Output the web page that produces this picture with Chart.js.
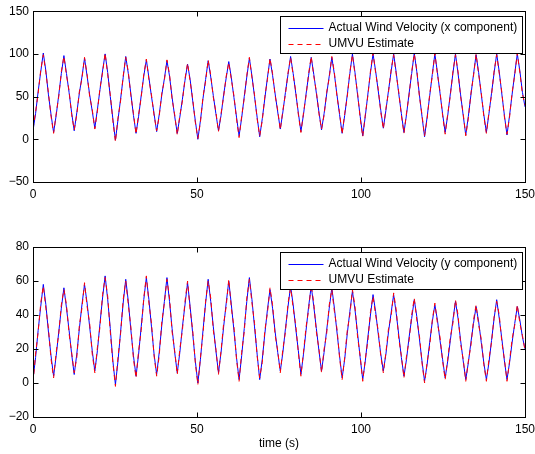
<!DOCTYPE html>
<html>
<head>
<meta charset="utf-8">
<script src="https://cdn.jsdelivr.net/npm/chart.js@4.4.1/dist/chart.umd.min.js"></script>
<style>
  html, body { margin: 0; padding: 0; background: #ffffff; overflow: hidden; }
  #wrap { position: relative; width: 535px; height: 454px; background: #ffffff; overflow: hidden; }
  canvas { position: absolute; left: 0; }
  #c1 { top: 0; }
  #c2 { top: 227px; }
</style>
</head>
<body>
<div id="wrap">
  <canvas id="c1" width="540" height="200"></canvas>
  <canvas id="c2" width="540" height="227"></canvas>
</div>
<script>
const sampleStep = Math.PI / 4;

const xActual = [
  10, 30, 56, 79, 101, 80, 52, 29,
  8, 28, 52, 77, 98, 77, 55, 31,
  10, 31, 54, 73, 95, 74, 52, 33,
  13, 35, 58, 80, 100, 78, 50, 24,
  -1, 23, 47, 72, 97, 77, 53, 28,
  7, 27, 51, 74, 93, 72, 50, 30,
  9, 29, 52, 71, 92, 74, 49, 27,
  7, 26, 47, 69, 88, 70, 45, 22,
  0, 22, 48, 70, 92, 73, 51, 30,
  10, 28, 52, 72, 91, 72, 49, 26,
  4, 25, 50, 73, 95, 74, 50, 26,
  3, 24, 48, 72, 94, 75, 53, 32,
  12, 32, 55, 76, 97, 77, 54, 31,
  9, 29, 53, 75, 96, 76, 54, 32,
  11, 30, 53, 74, 96, 76, 52, 29,
  7, 28, 52, 77, 100, 78, 52, 27,
  4, 27, 53, 78, 100, 80, 57, 34,
  13, 34, 57, 79, 100, 78, 53, 30,
  8, 29, 54, 77, 101, 79, 52, 27,
  3, 26, 51, 76, 100, 78, 54, 30,
  8, 28, 53, 77, 100, 77, 52, 28,
  5, 27, 52, 76, 99, 78, 53, 29,
  8, 30, 54, 78, 100, 79, 53, 28,
  5, 28, 53, 77, 100, 80, 55, 38
];

const xEstimate = [
  12, 32, 54, 81, 99, 78, 54, 27,
  7, 30, 50, 79, 97, 75, 57, 29,
  11, 29, 56, 71, 96, 76, 50, 35,
  12, 33, 60, 78, 101, 76, 52, 22,
  -3, 25, 45, 74, 96, 79, 51, 30,
  6, 29, 49, 76, 94, 70, 52, 28,
  10, 27, 54, 69, 93, 76, 47, 29,
  5, 28, 45, 71, 89, 68, 47, 20,
  1, 20, 50, 68, 93, 75, 49, 32,
  9, 30, 50, 74, 90, 70, 51, 24,
  2, 27, 48, 75, 96, 72, 52, 24,
  4, 22, 50, 70, 95, 77, 51, 34,
  11, 34, 53, 78, 96, 75, 56, 29,
  8, 31, 51, 77, 97, 74, 56, 30,
  12, 28, 55, 72, 97, 78, 50, 31,
  6, 30, 50, 79, 99, 76, 54, 25,
  3, 29, 51, 80, 101, 78, 59, 32,
  12, 36, 55, 81, 99, 76, 55, 28,
  7, 31, 52, 79, 100, 81, 50, 29,
  4, 24, 53, 74, 101, 76, 56, 28,
  6, 30, 51, 79, 99, 79, 50, 30,
  4, 25, 54, 74, 100, 76, 55, 27,
  7, 32, 52, 80, 99, 77, 55, 26,
  6, 26, 55, 75, 101, 78, 53, 40
];

const yActual = [
  2, 15, 31, 45, 58, 46, 30, 16,
  4, 16, 30, 44, 56, 44, 31, 17,
  5, 17, 32, 46, 58, 47, 33, 19,
  7, 19, 35, 50, 63, 49, 32, 13,
  -1, 13, 30, 47, 61, 48, 31, 16,
  4, 17, 33, 49, 62, 49, 33, 17,
  5, 18, 34, 48, 62, 48, 32, 18,
  6, 18, 33, 46, 59, 45, 29, 13,
  0, 14, 31, 47, 61, 48, 33, 19,
  6, 18, 33, 47, 60, 46, 31, 15,
  2, 16, 32, 48, 62, 49, 33, 17,
  2, 14, 29, 43, 55, 44, 30, 18,
  7, 18, 32, 45, 57, 46, 32, 19,
  5, 17, 31, 45, 57, 45, 32, 19,
  7, 18, 31, 44, 56, 44, 30, 16,
  3, 14, 29, 42, 54, 43, 29, 15,
  2, 13, 27, 40, 52, 42, 29, 17,
  7, 17, 30, 41, 52, 41, 28, 15,
  4, 14, 27, 38, 49, 39, 26, 13,
  1, 11, 24, 36, 46, 37, 25, 14,
  3, 13, 25, 37, 48, 38, 25, 13,
  2, 12, 24, 35, 45, 36, 24, 12,
  2, 12, 25, 38, 49, 38, 26, 13,
  2, 12, 24, 35, 45, 37, 27, 20
];

const yEstimate = [
  0, 17, 30, 47, 57, 44, 32, 14,
  3, 18, 29, 46, 55, 46, 29, 18,
  6, 15, 34, 44, 59, 45, 35, 17,
  6, 21, 33, 52, 62, 51, 30, 12,
  -2, 15, 29, 49, 60, 46, 33, 14,
  3, 19, 31, 50, 63, 47, 35, 16,
  4, 16, 36, 47, 61, 50, 30, 19,
  5, 20, 31, 48, 60, 43, 31, 12,
  -1, 15, 29, 48, 60, 50, 31, 20,
  5, 19, 35, 45, 61, 44, 33, 14,
  1, 18, 30, 50, 61, 47, 35, 16,
  3, 12, 31, 41, 56, 46, 28, 19,
  6, 20, 30, 47, 56, 44, 34, 18,
  4, 18, 33, 43, 58, 47, 30, 20,
  6, 20, 29, 46, 55, 42, 32, 15,
  2, 15, 31, 40, 55, 45, 27, 16,
  1, 14, 25, 42, 51, 40, 31, 16,
  6, 18, 32, 39, 53, 43, 26, 16,
  3, 16, 25, 40, 50, 37, 28, 12,
  0, 12, 22, 37, 47, 35, 27, 13,
  2, 14, 27, 35, 49, 40, 23, 14,
  1, 13, 22, 37, 46, 34, 26, 11,
  1, 14, 24, 39, 48, 40, 24, 14,
  1, 13, 26, 34, 46, 35, 28, 19
];

const topLabels = ['Actual Wind Velocity (x component)', 'UMVU Estimate'];
const bottomLabels = ['Actual Wind Velocity (y component)', 'UMVU Estimate'];
const xTicks = [0, 50, 100, 150];
const topYTicks = [-50, 0, 50, 100, 150];
const bottomYTicks = [-20, 0, 20, 40, 60, 80];

// ---- helpers ----
const FONT = "'Liberation Sans', Arial, Helvetica, sans-serif";
Chart.defaults.font.family = FONT;
Chart.defaults.font.size = 12;
Chart.defaults.color = '#000000';

function toPoints(values) {
  return values.map((v, i) => ({ x: i * sampleStep, y: v }));
}
function fmt(v) { return String(v).replace('-', '\u2212'); }

const boxPlugin = {
  id: 'matlabBox',
  afterDatasetsDraw(chart) {
    const { ctx, chartArea: a, scales } = chart;
    const L = Math.round(a.left) + 0.5, R = Math.round(a.right) + 0.5;
    const T = Math.round(a.top) + 0.5, B = Math.round(a.bottom) + 0.5;
    ctx.save();
    ctx.strokeStyle = '#000';
    ctx.lineWidth = 1;
    ctx.strokeRect(L, T, R - L, B - T);
    const tl = 5;
    ctx.beginPath();
    scales.x.ticks.forEach(t => {
      const px = Math.round(scales.x.getPixelForValue(t.value)) + 0.5;
      ctx.moveTo(px, B); ctx.lineTo(px, B - tl);
      ctx.moveTo(px, T); ctx.lineTo(px, T + tl);
    });
    scales.y.ticks.forEach(t => {
      const py = Math.round(scales.y.getPixelForValue(t.value)) + 0.5;
      ctx.moveTo(L, py); ctx.lineTo(L + tl, py);
      ctx.moveTo(R, py); ctx.lineTo(R - tl, py);
    });
    ctx.stroke();

    // legend box (top right, inside the axes)
    const ds = chart.data.datasets;
    ctx.font = '12px ' + FONT;
    const textW = Math.max(...ds.map(d => ctx.measureText(d.label).width));
    const lineLen = 35, gapL = 8, gapT = 5, padR = 5, rowH = 16;
    const bw = Math.round(gapL + lineLen + gapT + textW + padR);
    const bh = rowH * ds.length + 5;
    const bx = Math.round(a.right - 3 - bw) + 0.5;
    const by = Math.round(a.top + 5) + 0.5;
    ctx.fillStyle = '#fff';
    ctx.fillRect(bx, by, bw, bh);
    ctx.strokeStyle = '#000';
    ctx.lineWidth = 1;
    ctx.strokeRect(bx, by, bw, bh);
    ds.forEach((d, i) => {
      const cy = by + 3 + rowH * i + rowH / 2;
      ctx.save();
      ctx.strokeStyle = d.borderColor;
      ctx.lineWidth = d.borderWidth;
      ctx.setLineDash(d.borderDash || []);
      ctx.beginPath();
      ctx.moveTo(bx + gapL, Math.round(cy) + 0.5);
      ctx.lineTo(bx + gapL + lineLen, Math.round(cy) + 0.5);
      ctx.stroke();
      ctx.restore();
      ctx.fillStyle = '#000';
      ctx.textBaseline = 'middle';
      ctx.textAlign = 'left';
      ctx.fillText(d.label, bx + gapL + lineLen + gapT, cy + 0.5);
    });
    ctx.restore();
  }
};

function makeChart(id, actual, estimate, labels, yTicks, padTop, xHeight, withTitle) {
  const ctx = document.getElementById(id);
  return new Chart(ctx, {
    type: 'line',
    data: {
      datasets: [
        { label: labels[0], data: toPoints(actual), borderColor: '#0000ff', borderWidth: 1,
          pointRadius: 0, tension: 0, fill: false, order: 2 },
        { label: labels[1], data: toPoints(estimate), borderColor: '#ff0000', borderWidth: 1,
          borderDash: [5, 4], pointRadius: 0, tension: 0, fill: false, order: 1 }
      ]
    },
    options: {
      responsive: false,
      animation: false,
      devicePixelRatio: 1,
      layout: { padding: { top: padTop, right: 0, left: 0, bottom: 0 } },
      plugins: { legend: { display: false }, tooltip: { enabled: false } },
      scales: {
        x: {
          type: 'linear', min: xTicks[0], max: xTicks[xTicks.length - 1],
          afterBuildTicks: s => { s.ticks = xTicks.map(v => ({ value: v })); },
          grid: { display: false, drawTicks: false },
          border: { display: false },
          ticks: { padding: 5, maxRotation: 0, callback: v => fmt(v), font: { size: 12 } },
          title: { display: withTitle, text: 'time (s)', padding: { top: 2, bottom: 3 }, font: { size: 12 } },
          afterFit: s => { s.height = xHeight; }
        },
        y: {
          type: 'linear', min: yTicks[0], max: yTicks[yTicks.length - 1],
          afterBuildTicks: s => { s.ticks = yTicks.map(v => ({ value: v })); },
          grid: { display: false, drawTicks: false },
          border: { display: false },
          ticks: { padding: 4, callback: v => fmt(v), font: { size: 12 } },
          afterFit: s => { s.width = 33; }
        }
      }
    },
    plugins: [boxPlugin]
  });
}

makeChart('c1', xActual, xEstimate, topLabels, topYTicks, 11, 18, false);
makeChart('c2', yActual, yEstimate, bottomLabels, bottomYTicks, 20, 37, true);
</script>
</body>
</html>
